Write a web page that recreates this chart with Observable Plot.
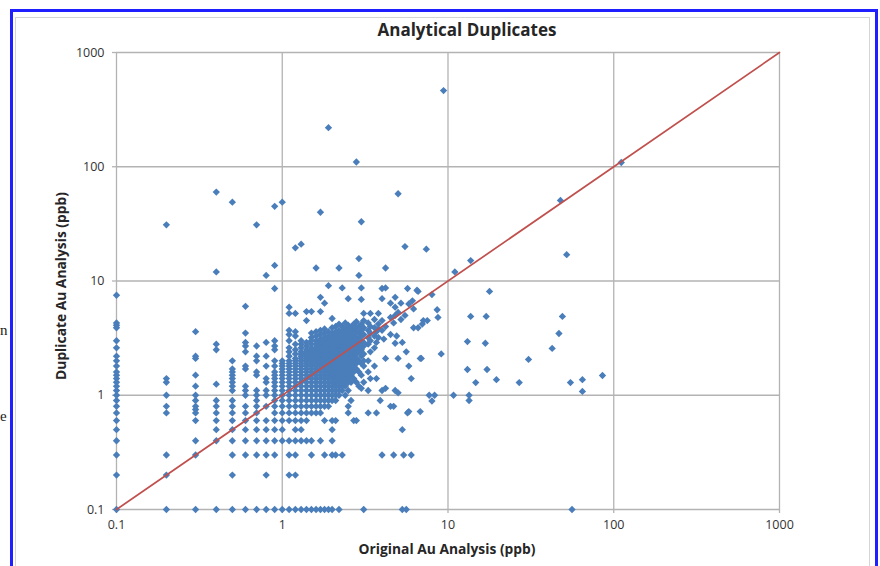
<!DOCTYPE html>
<html><head><meta charset="utf-8">
<script src="https://cdn.jsdelivr.net/npm/d3@7"></script>
<script src="https://cdn.jsdelivr.net/npm/@observablehq/plot@0.6"></script>
<style>
body{margin:0;background:#fff;}
#wrap{position:relative;width:880px;height:566px;overflow:hidden;font-family:"Open Sans",sans-serif;}
#chart{position:absolute;left:0;top:0;}
.frame{position:absolute;left:10px;top:9px;width:862px;height:620px;border:3px solid #1f1fff;border-bottom:none;}
.inner{position:absolute;left:15px;top:17px;width:853px;height:620px;border:1px solid #d4d4d4;}
.title{position:absolute;left:367px;width:200px;top:18px;text-align:center;font-weight:bold;font-size:17px;color:#262626;white-space:nowrap;}
.xlab{position:absolute;left:347px;width:200px;top:539px;text-align:center;font-weight:bold;font-size:13.8px;color:#262626;white-space:nowrap;}
.ylab{position:absolute;left:60px;top:286px;transform:translate(-50%,-50%) rotate(-90deg);font-weight:bold;font-size:13.8px;color:#262626;white-space:nowrap;}
.frag{position:absolute;font-family:"Liberation Serif",serif;font-size:15px;color:#222;}
</style></head>
<body>
<div id="wrap">
  <div class="frag" style="left:0px;top:322px;">n</div>
  <div class="frag" style="left:0px;top:408px;">e</div>
  <div class="frame"></div>
  <div class="inner"></div>
  <div id="chart"></div>
  <div class="title">Analytical Duplicates</div>
  <div class="xlab">Original Au Analysis (ppb)</div>
  <div class="ylab">Duplicate Au Analysis (ppb)</div>
</div>
<script>
// Tick values and labels
const tickValues = [0.1, 1, 10, 100, 1000];
const tickLabels = ["0.1", "1", "10", "100", "1000"];
// 1:1 reference line endpoints
const lineVals = [0.1, 1000];

// Original Au (ppb) values, one per column of readings
const colX = [0.1,0.2,0.3,0.4,0.5,0.6,0.7,0.8,0.9,1.0,1.1,1.2,1.3,1.4,1.5,1.6,1.7,1.8,1.9,2.0,2.1,2.2,2.3,2.4,2.5,2.6,2.7,2.8,2.9,3.0,
  3.1,3.3,3.4,3.6,3.7,3.8,3.9,4.0,4.1,4.2,4.5,4.7,4.8,4.9,5.0,5.2,5.3,5.4,5.5,5.6,5.7,5.8,6.0,6.1,6.2,6.5,6.6,6.8,6.9,7.0,7.1,7.4,7.5,7.7,8.0,8.3,8.6,8.7,9.1,9.4,
  10.8,11,13.1,13.4,13.7,14.7,16.8,17,17.2,17.8,19.6,26.9,30.6,42.5,46.7,47.7,49,52,54.8,56,64.7,85.5,111];
// Duplicate Au (ppb) values for each original value
const colY = [
  [7.5,4.3,4.1,3.9,3.0,2.6,2.2,2.0,1.8,1.6,1.5,1.4,1.3,1.2,1.1,1.0,0.9,0.8,0.7,0.6,0.5,0.4,0.3,0.2,0.1],
  [31,1.4,1.3,1.0,0.8,0.7,0.3,0.2,0.1],
  [3.6,2.2,2.1,1.5,1.2,1.0,0.9,0.8,0.75,0.7,0.6,0.4,0.3,0.1],
  [60,12,2.8,2.5,1.25,0.9,0.8,0.7,0.6,0.5,0.4,0.1],
  [49,2.0,1.7,1.6,1.5,1.4,1.3,1.2,1.1,0.9,0.8,0.7,0.6,0.5,0.4,0.3,0.2,0.1],
  [6.0,3.5,2.9,2.7,2.4,1.8,1.7,1.2,1.1,1.0,0.8,0.7,0.6,0.5,0.4,0.3,0.1],
  [31,2.7,2.2,2.0,1.6,1.5,1.1,1.0,0.9,0.8,0.7,0.6,0.5,0.4,0.3,0.1],
  [11.2,2.9,2.2,1.8,1.4,1.3,1.1,1.0,0.8,0.6,0.5,0.4,0.3,0.2,0.1],
  [45,13.7,8.6,3.0,2.7,2.5,2.0,1.8,1.6,1.5,1.4,1.3,1.2,1.1,1.0,0.9,0.8,0.7,0.6,0.5,0.4,0.3,0.1],
  [49,2.0,1.9,1.8,1.7,1.6,1.5,1.4,1.3,1.2,1.1,1.0,0.9,0.8,0.7,0.6,0.5,0.4,0.1],
  [5.9,5.2,3.7,3.4,3.0,2.6,2.4,2.2,2.0,1.9,1.8,1.7,1.6,1.5,1.4,1.3,1.2,1.1,1.0,0.9,0.8,0.7,0.6,0.4,0.3,0.2,0.1],
  [19.5,5.2,3.6,3.3,2.8,2.5,2.3,2.1,2.0,1.9,1.8,1.7,1.6,1.5,1.4,1.3,1.2,1.1,1.0,0.9,0.8,0.7,0.6,0.5,0.4,0.3,0.2,0.1],
  [21,3.0,2.8,2.6,2.4,2.3,2.2,2.1,2.0,1.9,1.8,1.7,1.6,1.5,1.4,1.3,1.2,1.1,1.0,0.9,0.8,0.7,0.6,0.5,0.4,0.1],
  [5.4,4.5,2.9,2.7,2.5,2.4,2.3,2.2,2.1,2.0,1.9,1.8,1.7,1.6,1.5,1.4,1.3,1.2,1.1,1.0,0.9,0.8,0.7,0.6,0.4,0.1],
  [5.4,3.5,3.2,3.0,2.8,2.6,2.5,2.4,2.3,2.2,2.1,2.0,1.9,1.8,1.7,1.6,1.5,1.4,1.3,1.2,1.1,1.0,0.9,0.8,0.7,0.4,0.3,0.1],
  [13,3.6,3.3,3.0,2.8,2.6,2.5,2.4,2.3,2.2,2.1,2.0,1.9,1.8,1.7,1.6,1.5,1.4,1.3,1.2,1.1,1.0,0.9,0.8,0.7,0.1],
  [40,7.2,5.4,3.7,3.4,3.1,2.9,2.7,2.6,2.5,2.4,2.3,2.2,2.1,2.0,1.9,1.8,1.7,1.6,1.5,1.4,1.3,1.2,1.1,1.0,0.9,0.8,0.7,0.4,0.1],
  [6.4,3.8,3.5,3.2,3.0,2.8,2.7,2.6,2.5,2.4,2.3,2.2,2.1,2.0,1.9,1.8,1.7,1.6,1.5,1.4,1.3,1.2,1.1,1.0,0.9,0.8,0.6,0.3,0.1],
  [220,9.1,3.6,3.3,3.1,2.9,2.7,2.6,2.5,2.4,2.3,2.2,2.1,2.0,1.9,1.8,1.7,1.6,1.5,1.4,1.3,1.2,1.1,1.0,0.9,0.8,0.1],
  [4.7,3.9,3.5,3.2,3.0,2.8,2.7,2.6,2.5,2.4,2.3,2.2,2.1,2.0,1.9,1.8,1.7,1.6,1.5,1.4,1.3,1.2,1.1,1.0,0.9,0.6,0.5,0.4,0.3,0.1],
  [4.0,3.6,3.3,3.0,2.8,2.6,2.5,2.4,2.3,2.2,2.1,2.0,1.9,1.8,1.7,1.6,1.5,1.4,1.3,1.2,1.1,1.0,0.9,0.6,0.3],
  [13,4.2,3.7,3.4,3.1,2.9,2.7,2.5,2.4,2.3,2.2,2.1,2.0,1.9,1.8,1.7,1.6,1.5,1.4,1.3,1.2,1.1,1.0,0.1],
  [8.7,4.0,3.6,3.3,3.0,2.8,2.6,2.5,2.4,2.3,2.2,2.1,2.0,1.9,1.8,1.7,1.6,1.5,1.4,1.3,1.2,1.1,0.3],
  [4.3,3.8,3.5,3.2,2.9,2.7,2.5,2.3,2.2,2.1,2.0,1.9,1.8,1.7,1.6,1.5,1.4,1.3,1.2,1.0],
  [7.0,4.1,3.7,3.4,3.1,2.8,2.6,2.4,2.2,2.0,1.9,1.8,1.7,1.6,1.5,1.4,1.3,1.1,0.8,0.7],
  [3.9,3.5,3.2,2.9,2.7,2.5,2.3,2.1,1.9,1.7,1.5,1.3,0.9],
  [4.2,3.7,3.4,3.1,2.8,2.6,2.4,2.2,2.0,1.8,1.6,1.4,0.6],
  [110,4.4,3.9,3.6,3.2,3.0,2.7,2.5,2.3,2.1,1.9,1.7,1.3,0.6],
  [15.7,11.2,4.0,3.5,3.1,2.8,2.6,2.4,2.0,1.6,1.2],
  [33,8.7,6.9,4.2,3.7,3.3,3.0,2.5,2.2,1.9,1.5,1.15],
  [5.2,4.5,3.9,3.4,2.9,2.7,2.3,2.0,1.8,1.3,0.1],
  [4.3,3.7,3.2,2.8,2.0,1.6,1.1,0.7],
  [5.2,4.0,3.5,3.0,2.4,1.4],
  [4.6,3.9,3.3,2.6,1.8],
  [3.6,2.9,1.4,0.7],
  [5.2,4.2,3.8,3.2],
  [0.9],
  [8.6,7.0,4.5,3.7,1.1,0.3],
  [3.1],
  [13,8.7,4.0,2.1,1.15],
  [6.4,4.8,3.4,0.8],
  [4.3,0.8,0.3],
  [7.2,5.9,5.0,2.85,1.1],
  [3.3],
  [58,5.3,2.1,1.05],
  [6.4,4.6],
  [2.9,0.5,0.1],
  [0.3],
  [20,5.0],
  [2.4,0.1],
  [8.6,0.7],
  [6.3,1.8,0.72],
  [1.4,0.3],
  [6.7],
  [5.7,3.9],
  [8.3],
  [8.1,3.9],
  [2.1,0.72],
  [2.1],
  [4.2],
  [4.5],
  [19],
  [4.5],
  [1.0],
  [7.6,0.89],
  [1.0],
  [5.6],
  [4.8],
  [2.3],
  [464],
  [1.0],
  [12],
  [2.95,1.68],
  [1.0,0.9],
  [15.1,4.9],
  [1.29],
  [2.85],
  [4.9],
  [1.68],
  [8.1],
  [1.37],
  [1.29],
  [2.06],
  [2.57],
  [3.47],
  [50.7],
  [4.9],
  [17],
  [1.29],
  [0.1],
  [1.37,1.08],
  [1.49],
  [109]
];

const points = colX.flatMap((x, i) => colY[i].map(y => ({x, y})));
const refLine = lineVals.map(v => ({x: v, y: v}));
const fmt = d => tickLabels[tickValues.indexOf(d)];

const gridStyle = {stroke: "#b3b3b3", strokeOpacity: 1, strokeWidth: 1.3};

const chart = Plot.plot({
  width: 880,
  height: 566,
  marginLeft: 116,
  marginRight: 101,
  marginTop: 52,
  marginBottom: 57,
  style: {fontFamily: "'Open Sans', sans-serif", fontSize: "12.5px", color: "#333", background: "transparent", overflow: "visible"},
  x: {type: "log", domain: [0.1, 1000]},
  y: {type: "log", domain: [0.1, 1000]},
  marks: [
    Plot.gridX(tickValues, gridStyle),
    Plot.gridY(tickValues, gridStyle),
    Plot.axisX(tickValues, {anchor: "bottom", tickSize: 4, tickPadding: 7, stroke: "#b3b3b3", strokeWidth: 1.3, fill: "#333", tickFormat: fmt, label: null}),
    Plot.axisY(tickValues, {anchor: "left", tickSize: 4, tickPadding: 8, stroke: "#b3b3b3", strokeWidth: 1.3, fill: "#333", tickFormat: fmt, label: null}),
    Plot.dot(points, {x: "x", y: "y", symbol: "diamond2", r: 3.3, fill: "#4a7ebb", stroke: "none"}),
    Plot.line(refLine, {x: "x", y: "y", stroke: "#c0504d", strokeWidth: 1.7})
  ]
});
document.getElementById("chart").appendChild(chart);
</script>
</body></html>
